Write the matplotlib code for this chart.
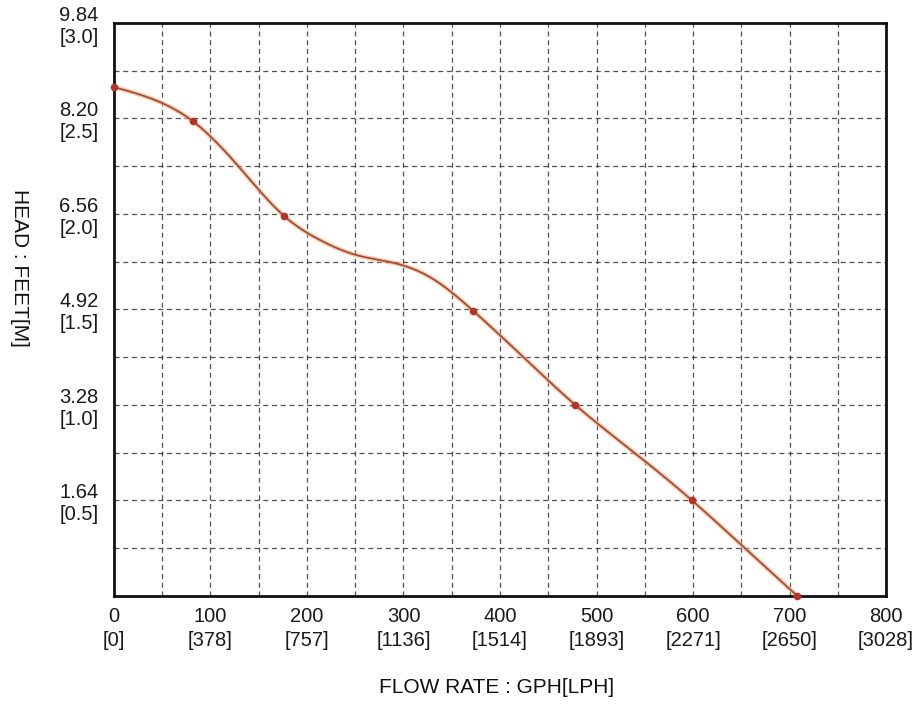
import numpy as np
import matplotlib
matplotlib.use("Agg")
import matplotlib.pyplot as plt

# rated points (markers)
flow_gph = [0, 82, 176, 372, 478, 599, 708]
head_ft = [8.74, 8.15, 6.53, 4.90, 3.28, 1.64, 0.0]

# extra points along the drawn curve
curve_gph = [0, 45, 82, 130, 176, 215, 250, 290, 330, 372,
             425, 478, 540, 599, 655, 708]
curve_ft = [8.74, 8.50, 8.15, 7.36, 6.53, 6.10, 5.86, 5.72, 5.45, 4.90,
            4.09, 3.28, 2.45, 1.64, 0.80, 0.0]

x_ticks = [0, 100, 200, 300, 400, 500, 600, 700, 800]
x_labels = ["0\n[0]", "100\n[378]", "200\n[757]", "300\n[1136]", "400\n[1514]",
            "500\n[1893]", "600\n[2271]", "700\n[2650]", "800\n[3028]"]
y_ticks = [1.64, 3.28, 4.92, 6.56, 8.20, 9.84]
y_labels = ["1.64\n[0.5]", "3.28\n[1.0]", "4.92\n[1.5]", "6.56\n[2.0]",
            "8.20\n[2.5]", "9.84\n[3.0]"]


def natural_spline(x, y, n=500):
    # smooth line through the points (natural cubic spline)
    x = np.asarray(x, float)
    y = np.asarray(y, float)
    k = len(x)
    h = np.diff(x)
    A = np.zeros((k, k))
    b = np.zeros(k)
    A[0, 0] = A[-1, -1] = 1
    for i in range(1, k - 1):
        A[i, i - 1] = h[i - 1]
        A[i, i] = 2 * (h[i - 1] + h[i])
        A[i, i + 1] = h[i]
        b[i] = 6 * ((y[i + 1] - y[i]) / h[i] - (y[i] - y[i - 1]) / h[i - 1])
    m = np.linalg.solve(A, b)
    xs = np.linspace(x[0], x[-1], n)
    idx = np.clip(np.searchsorted(x, xs) - 1, 0, k - 2)
    t0 = xs - x[idx]
    t1 = x[idx + 1] - xs
    hi = h[idx]
    ys = (m[idx] * t1 ** 3 / (6 * hi) + m[idx + 1] * t0 ** 3 / (6 * hi)
          + (y[idx] / hi - m[idx] * hi / 6) * t1
          + (y[idx + 1] / hi - m[idx + 1] * hi / 6) * t0)
    return xs, ys


plt.rcParams['font.family'] = ['Liberation Sans', 'DejaVu Sans']

fig = plt.figure(figsize=(9.22, 7.12), dpi=100)
ax = fig.add_axes([0.1236, 0.163, 0.8374, 0.8047])

ax.set_xlim(0, 800)
ax.set_ylim(0, 9.84)

# labelled ticks
ax.set_xticks(x_ticks, x_labels)
ax.set_yticks(y_ticks, y_labels)
ax.tick_params(length=0, labelsize=14.5, colors='#1a1a1a')
ax.tick_params(axis='x', pad=8)
ax.tick_params(axis='y', pad=11)
for lab in ax.get_xticklabels():
    lab.set_linespacing(1.3)
for lab in ax.get_yticklabels():
    lab.set_multialignment('center')
    lab.set_linespacing(1.2)

# grid every 50 gph / 0.82 ft
ax.set_xticks(np.arange(50, 800, 100), minor=True)
ax.set_yticks(np.arange(0.82, 9.8, 1.64), minor=True)
ax.tick_params(which='minor', length=0)
ax.grid(True, which='both', color='#333333', linestyle=(0, (4, 3)),
        linewidth=0.9, alpha=0.85)

for s in ax.spines.values():
    s.set_linewidth(2)
    s.set_color('#111111')

xs, ys = natural_spline(curve_gph, curve_ft)
ax.plot(xs, ys, color='#f2b08a', linewidth=3.2, alpha=0.7, zorder=3)
ax.plot(xs, ys, color='#9c4a30', linewidth=1.2, zorder=4)
ax.plot(flow_gph, head_ft, 'o', color='#b8322a', markersize=4.5, zorder=5,
        clip_on=False)

fig.text(0.539, 0.034, "FLOW RATE : GPH[LPH]", fontsize=15, ha='center',
         va='center', color='#111111')
fig.text(0.021, 0.624, "HEAD : FEET[M]", fontsize=15, rotation=-90,
         ha='center', va='center', color='#111111')

fig.savefig("out.png", dpi=100, facecolor='white')
